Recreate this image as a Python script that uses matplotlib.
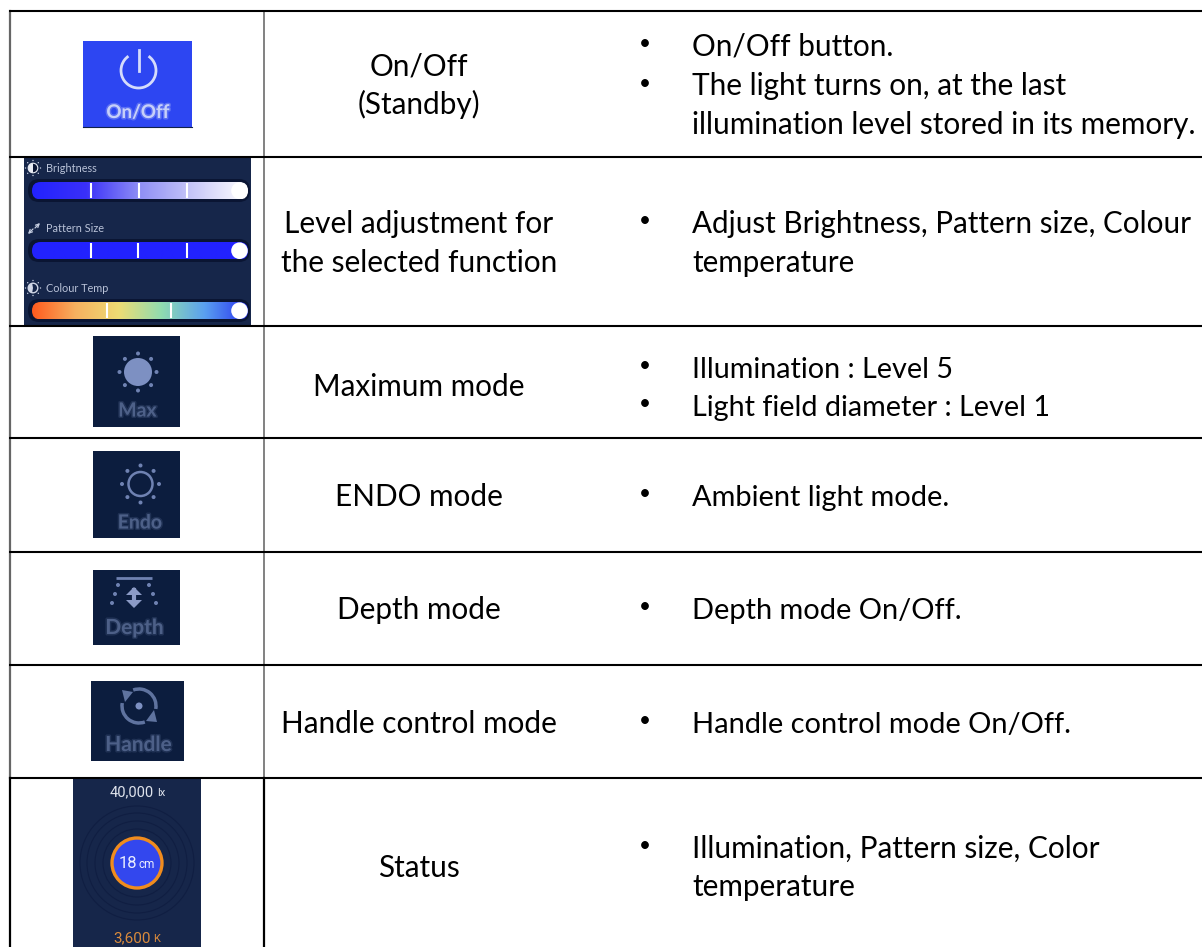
import numpy as np
import matplotlib
matplotlib.use('Agg')
import matplotlib.pyplot as plt
from matplotlib.colors import LinearSegmentedColormap
from matplotlib.patches import Rectangle, Circle, Arc, FancyBboxPatch, Polygon, Wedge
import matplotlib.patheffects as pe

plt.rcParams['font.family'] = ['Lato', 'DejaVu Sans']

# table content
row_lines = [11, 156.5, 326, 438, 551.5, 665, 778]
col_lines = [10, 264]
col2_text = [
    ['On/Off', '(Standby)'],
    ['Level adjustment for', 'the selected function'],
    ['Maximum mode'],
    ['ENDO mode'],
    ['Depth mode'],
    ['Handle control mode'],
    ['Status'],
]
col2_base = [
    [75, 114],
    [232.5, 271.5],
    [395.5],
    [505.5],
    [618.5],
    [732.5],
    [876.5],
]
col3_text = [
    [('•', 'On/Off button.'), ('•', 'The light turns on, at the last'), ('', 'illumination level stored in its memory.')],
    [('•', 'Adjust Brightness, Pattern size, Colour'), ('', 'temperature')],
    [('•', 'Illumination : Level 5'), ('•', 'Light field diameter : Level 1')],
    [('•', 'Ambient light mode.')],
    [('•', 'Depth mode On/Off.')],
    [('•', 'Handle control mode On/Off.')],
    [('•', 'Illumination, Pattern size, Color'), ('', 'temperature')],
]
col3_base = [
    [55, 95, 134],
    [232.5, 271.5],
    [377.5, 415.5],
    [505.5],
    [618.5],
    [732.5],
    [857.5, 895.5],
]
col3_size = [21.45, 21.35, 20.7, 20.9, 20.9, 20.9, 21.4]

slider_names = ['Brightness', 'Pattern Size', 'Colour Temp']
slider_ticks = [[90.5, 138.5, 187], [90.5, 138, 187], [106.5, 171]]
slider_colors = [
    ['#2222ff', '#3a30f8', '#8f8ff5', '#c8c8f8', '#ffffff'],
    ['#2222ff', '#2222ff'],
    ['#ff5a1e', '#f6b060', '#eedc74', '#90dcb0', '#5aa0f0', '#2a35f0'],
]

NAVY = '#16264a'
DARK = '#0c1d3e'
ICON = '#6f82b2'
ICON_TXT = '#4d6088'

fig = plt.figure(figsize=(12.02, 9.47), dpi=100)
ax = fig.add_axes([0, 0, 1, 1])


def soft(t):
    # the icons in the source are blurry screenshots
    t.set_path_effects([pe.withStroke(linewidth=2.2, foreground=t.get_color(), alpha=0.3)])
    return t


def dots(cx, cy, r, n=8, s=2.0, color=ICON):
    for a in np.arange(n) * 2 * np.pi / n:
        ax.add_patch(Circle((cx + r * np.cos(a), cy + r * np.sin(a)), s, color=color, lw=0, zorder=4))


def slider(y0, name, ticks, colors):
    ax.add_patch(FancyBboxPatch((28, y0 - 3), 222, 23, boxstyle='round,pad=0,rounding_size=11',
                                fc='#0a1533', ec='none', zorder=3))
    cmap = LinearSegmentedColormap.from_list('c', colors)
    im = ax.imshow(np.linspace(0, 1, 256)[None, :], cmap=cmap, extent=(32, 248, y0 + 17.5, y0),
                   aspect='auto', zorder=4, interpolation='bilinear')
    clip = FancyBboxPatch((32, y0), 216, 17.5, boxstyle='round,pad=0,rounding_size=8.7',
                          fc='none', ec='none', transform=ax.transData)
    ax.add_patch(clip)
    im.set_clip_path(clip)
    for t in ticks:
        ax.plot([t, t], [y0 + 1, y0 + 16], color='white', lw=1.5, zorder=5, solid_capstyle='butt')
    ax.add_patch(Circle((239.5, y0 + 8.7), 8.3, color='white', lw=0, zorder=6))
    ax.text(46, y0 - 14, name, fontsize=7.8, color='#b9c2d8', va='center', zorder=6)


# table grid
ax.plot([col_lines[0]] * 2, [row_lines[0], row_lines[-1]], color='#666666', lw=1.6)
ax.plot([col_lines[1]] * 2, [row_lines[0], row_lines[-1]], color='#777777', lw=1.3)
ax.plot([col_lines[0]] * 2, [row_lines[-1], 947], color='black', lw=1.6)
ax.plot([col_lines[1]] * 2, [row_lines[-1], 947], color='black', lw=1.6)
for y in row_lines:
    ax.plot([col_lines[0] - 1, 1202], [y, y], color='black', lw=1.5, zorder=8, solid_capstyle='butt')

# text columns
for lines, bases in zip(col2_text, col2_base):
    for s, b in zip(lines, bases):
        ax.text(419, b, s, fontsize=21.45, ha='center', va='baseline', color='black')
for lines, bases, size in zip(col3_text, col3_base, col3_size):
    for (bul, s), b in zip(lines, bases):
        if bul:
            ax.text(644.7, b - 5.5, bul, fontsize=15, ha='center', va='baseline', color='black')
        ax.text(692, b, s, fontsize=size, ha='left', va='baseline', color='black')

# On/Off icon
ax.add_patch(Rectangle((83, 41), 109, 85.5, fc='#2d46f2', ec='none'))
ax.plot([83, 192], [126.5, 126.5], color='#10204a', lw=0.8)
ax.add_patch(Arc((138.5, 70.5), 35, 35, theta1=-55, theta2=235, ec='#d5dcfb', lw=2))
ax.plot([138.5, 138.5], [50, 71], color='#d5dcfb', lw=2)
soft(ax.text(138, 112.5, 'On/Off', fontsize=13.5, weight='bold', color='#c7d0f9', ha='center', va='center'))

# slider panel
ax.add_patch(Rectangle((24, 157.5), 227, 168, fc=NAVY, ec='none'))
for y0, name, ticks, colors in zip([182, 242, 302], slider_names, slider_ticks, slider_colors):
    slider(y0, name, ticks, colors)
# brightness glyph
ax.add_patch(Circle((33, 168), 4.8, fc='#0a1533', ec='#e8ebf3', lw=0.8, zorder=6))
ax.add_patch(Wedge((33, 168), 4.8, 90, 270, fc='#e8ebf3', ec='none', zorder=7))
dots(33, 168, 7.5, s=0.7, color='#c5cde0')
# pattern size glyph
arrow = dict(arrowstyle='->', color='#c5cde0', lw=0.9, mutation_scale=6, shrinkA=0, shrinkB=0)
ax.annotate('', xy=(28, 234), xytext=(33, 229), arrowprops=arrow)
ax.annotate('', xy=(40, 223), xytext=(35, 228), arrowprops=arrow)
# colour temp glyph
ax.add_patch(Circle((33, 288), 4.8, fc='none', ec='#d0d6e6', lw=1, zorder=6))
ax.add_patch(Wedge((33, 288), 4.8, 100, 260, fc='#d0d6e6', ec='none', zorder=6))
dots(33, 288, 7.5, s=0.7, color='#c5cde0')

# Max icon
ax.add_patch(Rectangle((93, 336), 87, 91, fc=DARK, ec='none'))
ax.add_patch(Circle((138, 372), 14, fc='#7d90c2', ec='none', zorder=4))
dots(138, 372, 18.5, s=2)
soft(ax.text(137.5, 411, 'Max', fontsize=14, weight='bold', color=ICON_TXT, ha='center', va='center'))

# Endo icon
ax.add_patch(Rectangle((93, 451), 87, 87, fc=DARK, ec='none'))
ax.add_patch(Circle((140.5, 484), 12, fc='none', ec=ICON, lw=1.8, zorder=4))
dots(140.5, 484, 18.5, s=2)
soft(ax.text(140, 523, 'Endo', fontsize=14, weight='bold', color=ICON_TXT, ha='center', va='center'))

# Depth icon
ax.add_patch(Rectangle((93, 570), 87, 75, fc=DARK, ec='none'))
ax.plot([116, 152], [577.5, 577.5], color=ICON, lw=2, solid_capstyle='butt')
ax.plot([134, 134], [590, 604], color='#8c9bc6', lw=3)
ax.add_patch(Polygon([[126, 595], [142, 595], [134, 587]], fc='#8c9bc6', ec='none', zorder=4))
ax.add_patch(Polygon([[126, 600], [142, 600], [134, 608]], fc='#8c9bc6', ec='none', zorder=4))
for dx, dy in [(-16, 585), (-19, 594), (-22, 603), (15, 585), (19, 594), (22, 603)]:
    ax.add_patch(Circle((134 + dx, dy), 2, color=ICON, lw=0, zorder=4))
soft(ax.text(134.5, 628, 'Depth', fontsize=15, weight='bold', color=ICON_TXT, ha='center', va='center'))

# Handle icon
ax.add_patch(Rectangle((91, 681), 93, 80, fc=DARK, ec='none'))
ax.add_patch(Arc((139, 706), 34, 34, theta1=250, theta2=370, ec='#5f739f', lw=2.5, zorder=4))
ax.add_patch(Arc((139, 706), 34, 34, theta1=70, theta2=190, ec='#5f739f', lw=2.5, zorder=4))
ax.add_patch(Polygon([[122, 690], [133, 692], [125, 702]], fc='#5f739f', ec='none', zorder=4))
ax.add_patch(Polygon([[157, 722], [146, 721], [154, 710]], fc='#5f739f', ec='none', zorder=4))
ax.add_patch(Circle((139, 706), 3.5, color='#7d90c2', lw=0, zorder=4))
soft(ax.text(138.5, 745, 'Handle', fontsize=15, weight='bold', color=ICON_TXT, ha='center', va='center'))

# Status icon
ax.add_patch(Rectangle((73, 779), 128, 168, fc=NAVY, ec='none'))
ax.text(131.5, 792, '40,000', fontsize=10.5, color='#dfe3ec', ha='center', va='center', family='Roboto')
ax.text(161, 793, 'lx', fontsize=8, color='#dfe3ec', ha='center', va='center', family='Roboto')
for r in [26, 34, 42, 50, 57]:
    ax.add_patch(Circle((137, 863), r, fc='none', ec='#101e42', lw=0.8, zorder=3))
ax.add_patch(Circle((137, 863), 25, fc='#3347ee', ec='#f08c1e', lw=2.4, zorder=4))
ax.text(128, 863, '18', fontsize=12, color='#e8ecff', ha='center', va='center', zorder=5, family='Roboto')
ax.text(146.5, 864, 'cm', fontsize=8.5, color='#e8ecff', ha='center', va='center', zorder=5, family='Roboto')
ax.text(132, 938, '3,600', fontsize=11, color='#d98a3c', ha='center', va='center', family='Roboto')
ax.text(156.5, 939, 'K', fontsize=8, color='#d98a3c', ha='center', va='center', family='Roboto')

ax.set_xlim(0, 1202)
ax.set_ylim(947, 0)
ax.axis('off')
fig.savefig('out.png', dpi=100, facecolor='white')
